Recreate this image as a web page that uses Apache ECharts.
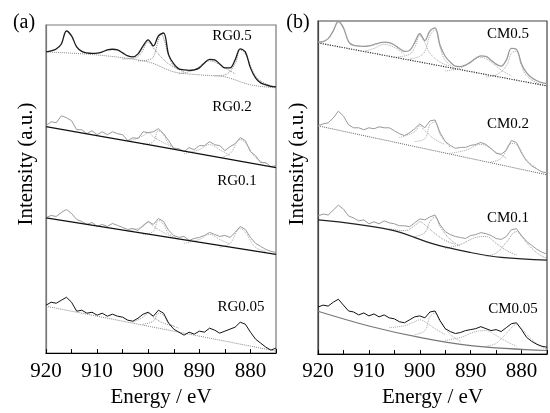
<!DOCTYPE html>
<html>
<head>
<meta charset="utf-8">
<script src="https://cdn.jsdelivr.net/npm/echarts@6/dist/echarts.min.js"></script>
<style>
html, body { margin: 0; padding: 0; background: #fff; }
#chart { width: 550px; height: 413px; }
</style>
</head>
<body>
<div id="chart"></div>
<script>
// binding energy, eV (1 eV steps)
var energy = [920,919,918,917,916,915,914,913,912,911,910,909,908,907,906,905,904,903,902,901,
	900,899,898,897,896,895,894,893,892,891,890,889,888,887,886,885,884,883,882,881,
	880,879,878,877,876,875];

// panel (a)
var rg05 = [302,303,305,310,323,318,307,302.5,301,300.5,300.7,302,304,304.7,304,301,298,297,300,308,
	314,308,318,321,299,290,285,284,283.5,284,286,291,294.5,294,290,286,286,294,305,302,
	286,276,271,269,267.5,267];
var rg02 = [228,232,231,238,236,233,224,224,220,223,219,222,219,222,220,219,213,216,215,222,
	221,222,225,220,213,205,205,202,206,204,208,208,212,209,208,203,207,210,216,213,
	202,198,191,191,187,188];
var rg01 = [136,138,137,141,144,140,134,132,129,131,127,129,127,130,128,126,124,125,123,128,
	132,129,135,132,123,118,116,117,113,115,116,118,121,119,117,118,116,121,127,124,
	116,110,107,104,102,101];
var rg005 = [48,51,50,53,56,51,42,43,40,41,38,40,37,39,37,36,33,32,35,39,
	41,37,43,40,30,24,21,18,21,19,22,21,25,23,20,22,24,26,31,29,
	21,14,10,6,3,5];

var rg05Base = [[920,302],[910,299],[900,292],[895,282],[890,279],[885,277],[880,269],[875,266]];
var rg02Base = [[920,227],[900,209],[875,186]];
var rg01Base = [[920,135.7],[875,99]];
var rg005Base = [[920,47],[875,2]];

var rg05Comp = [
	[[905,295],[903,295.5],[901.5,300],[900,312],[899,306],[897.5,297],[896,290],[894,284]],
	[[902,293],[900,294],[899,297],[898,314],[897.5,320],[897,316],[896,298],[895,288],[893,282]],
	[[894,280],[891,284],[888,293],[885,286],[883,280]],
	[[887,278],[885,279],[883,290],[882,304],[881,300],[879,278],[877,270],[875,267]]
];
var rg02Comp = [
	[[904,212],[901,218],[900,221],[899,217],[897,211],[895,206]],
	[[901,209],[899,212],[898,223],[897,219],[896,210],[894,204]],
	[[893,200],[890,204],[888,209],[886,204],[884,198]],
	[[886,196],[884,200],[882,214],[881,211],[879,196],[877,190]]
];
var rg01Comp = [
	[[904,122],[901,127],[900,131],[899,127],[897,121],[895,116]],
	[[901,119],[899,122],[898,133],[897,129],[896,120],[894,114]],
	[[893,110],[890,114],[888,119],[886,114],[884,109]],
	[[886,106],[884,110],[882,125],[881,121],[879,106],[877,102]]
];
var rg005Comp = [
	[[903,31],[901,36],[900,40],[899,36],[897,30],[895,27]],
	[[901,29],[899,32],[898,40],[897,38],[896,30],[894,25]]
];

// panel (b)
var cm05 = [318.5,319,322,330,339.5,333,319,315,314.5,314,314.5,316,317.5,318.5,318,315.5,312,309,310,318,
	327,320,330,333,315,304,298,294,293.5,295,298,302,304.5,304,300,296,294,300,312,311,
	296,287,282,279,277,276];
var cm02 = [233,235,236,241,248,243,234,231,231,229,231,230,232,231,231,228,225,223,226,230,
	235,231,238,239,226,217,213,210,211,211,213,214,216,214,210,205,204,208,218,216,
	205,197,192,189,186,185];
var cm01 = [141,143,142,147,152,148,141,139,136,137,133,135,133,136,134,133,131,131,130,134,
	138,137,140,142,132,125,122,120,119,118,121,122,124,123,121,118,117,120,127,128,
	121,115,111,107,104,102];
var cm005 = [48,50,49,53,56,50,44,43,40,42,39,41,38,40,37,36,33,32,35,38,
	39,37,43,44,34,26,23,21,22,24,25,26,28,26,24,25,23,27,31,32,
	25,17,13,10,8,7];

var cm05Base = [[920,317.7],[875,273.7]];
var cm02Base = [[920,233],[875,183]];
var cm01Base = [[920,137],[906,127],[897,112],[890,103.7],[884,98.7],[875,96]];
var cm005Base = [[920,43.7],[910,28.7],[900,17],[890,8.7],[875,3.7]];

var cm05Comp = [
	[[911,309],[909,312],[907,316],[905,313],[903,306]],
	[[905,303],[902,306],[901,313],[900,325],[899,318],[898,307],[896,298],[894,294]],
	[[902,301],[900,304],[899,309],[898,325],[897,331],[896,313],[895,300],[893,291]],
	[[895,289],[892,292],[890,298],[888,303],[886,298],[884,290],[882,284]],
	[[887,283],[885,285],[883,294],[882,307],[881,309],[880,294],[879,284],[877,277],[875,274]]
];
var cm02Comp = [
	[[904,221],[901,227],[900,233],[899,228],[897,219],[895,214]],
	[[901,217],[899,220],[898,234],[897,237],[896,224],[894,211]],
	[[894,205],[891,208],[888,214],[885,206],[883,200]],
	[[886,196],[884,200],[882,215],[881,214],[879,198],[877,190]]
];
var cm01Comp = [
	[[906,128],[903,126],[901,131],[900,135],[899,132],[897,123],[895,116],[893,112]],
	[[901,120],[899,124],[898,135],[897,140],[896,130],[894,117],[892,110]],
	[[895,108],[892,112],[889,119],[887,120],[885,113],[883,106],[881,101]],
	[[887,100],[885,103],[883,114],[881,125],[880,120],[878,108],[876,100],[875,98]]
];
var cm005Comp = [
	[[906,27],[903,29],[901,33],[900,35],[899,33],[897,26],[895,20]],
	[[901,20],[899,24],[898,38],[897,42],[896,33],[894,20],[892,13]],
	[[895,14],[892,17],[889,23],[887,24],[885,19],[883,13],[881,8]],
	[[887,8],[885,11],[883,21],[881,30],[880,26],[878,15],[876,7],[875,5]]
];

var FONT = '"Liberation Serif", "DejaVu Serif", serif';

function pairs(arr){
	return energy.map(function(e, i){ return [e, arr[i]]; });
}

function line(idx, data, color, width, type, smooth){
	return {
		type: 'line',
		xAxisIndex: idx,
		yAxisIndex: idx,
		data: data,
		symbol: 'none',
		smooth: smooth || false,
		silent: true,
		lineStyle: {color: color, width: width, type: type || 'solid'},
		z: type === 'dotted' ? 2 : 3
	};
}

function comps(idx, list, color){
	return list.map(function(c){ return line(idx, c, color, 1, 'dotted', 0.4); });
}

var series = [].concat(
	comps(0, rg05Comp, '#8a8a8a'),
	[line(0, rg05Base, '#8a8a8a', 1, 'dotted', 0.3),
	 line(0, pairs(rg05), '#1a1a1a', 1.3, 'solid', 0.35)],
	comps(0, rg02Comp, '#aaa'),
	[line(0, pairs(rg02), '#9a9a9a', 1, 'solid'),
	 line(0, rg02Base, '#111', 1.3, 'solid', 0.3)],
	comps(0, rg01Comp, '#aaa'),
	[line(0, pairs(rg01), '#9a9a9a', 1, 'solid'),
	 line(0, rg01Base, '#111', 1.3, 'solid')],
	comps(0, rg005Comp, '#999'),
	[line(0, rg005Base, '#888', 1, 'dotted'),
	 line(0, pairs(rg005), '#111', 1, 'solid')],

	comps(1, cm05Comp, '#aaa'),
	[line(1, cm05Base, '#333', 1.2, 'dotted'),
	 line(1, pairs(cm05), '#9a9a9a', 1.3, 'solid', 0.35)],
	comps(1, cm02Comp, '#aaa'),
	[line(1, cm02Base, '#666', 1, 'dotted'),
	 line(1, pairs(cm02), '#9a9a9a', 1, 'solid')],
	comps(1, cm01Comp, '#999'),
	[line(1, pairs(cm01), '#9a9a9a', 1, 'solid'),
	 line(1, cm01Base, '#222', 1.2, 'solid', 0.4)],
	comps(1, cm005Comp, '#aaa'),
	[line(1, cm005Base, '#777', 1.2, 'solid', 0.4),
	 line(1, pairs(cm005), '#111', 1, 'solid')]
);

function xAxis(idx, margin, gap){
	return {
		type: 'value',
		gridIndex: idx,
		inverse: true,
		min: 875,
		max: 920,
		interval: 5,
		name: 'Energy / eV',
		nameLocation: 'middle',
		nameGap: gap,
		nameTextStyle: {fontFamily: FONT, fontSize: 21, color: '#000'},
		axisLine: {show: true, onZero: false, lineStyle: {color: '#000', width: 1.2}},
		axisTick: {show: true, inside: true, length: 4, lineStyle: {color: '#000'}},
		axisLabel: {
			margin: margin,
			fontFamily: FONT, fontSize: 21, color: '#000',
			formatter: function(v){ return v % 10 === 0 ? String(v) : ''; }
		},
		splitLine: {show: false}
	};
}

function yAxis(idx, max, color){
	return {
		type: 'value',
		gridIndex: idx,
		min: 0,
		max: max,
		axisLine: {show: true, lineStyle: {color: color, width: 1.2}},
		axisTick: {show: false},
		axisLabel: {show: false},
		splitLine: {show: false}
	};
}

function label(x, y, text, size, rot){
	return {
		type: 'text', x: x, y: y, rotation: rot || 0,
		style: {text: text, font: size + 'px ' + FONT, fill: '#000', align: 'center', verticalAlign: 'middle'}
	};
}

var chart = echarts.init(document.getElementById('chart'), null, {renderer: 'canvas'});
chart.setOption({
	animation: false,
	backgroundColor: '#fff',
	grid: [
		{left: 46, top: 25, width: 230, height: 329, show: true, borderColor: '#7a7a7a', borderWidth: 1.2},
		{left: 318, top: 21, width: 229, height: 340, show: true, borderColor: '#444', borderWidth: 1.2}
	],
	xAxis: [xAxis(0, 8, 31), xAxis(1, 7, 24)],
	yAxis: [yAxis(0, 329, '#7a7a7a'), yAxis(1, 340, '#444')],
	series: series,
	graphic: [
		label(24, 23, '(a)', 20),
		label(298, 23, '(b)', 20),
		label(26, 164, 'Intensity (a.u.)', 21, Math.PI / 2),
		label(297, 164, 'Intensity (a.u.)', 21, Math.PI / 2),
		label(232, 36, 'RG0.5', 15),
		label(232, 107, 'RG0.2', 15),
		label(237, 181, 'RG0.1', 15),
		label(241, 307, 'RG0.05', 15),
		label(508, 34, 'CM0.5', 15),
		label(508, 124, 'CM0.2', 15),
		label(508, 218, 'CM0.1', 15),
		label(513, 309, 'CM0.05', 15)
	]
});
</script>
</body>
</html>
